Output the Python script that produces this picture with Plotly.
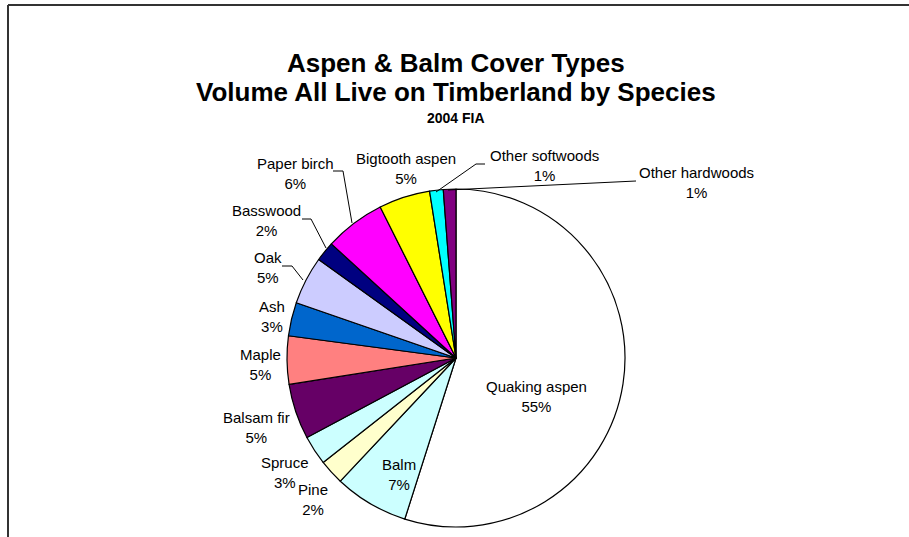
import plotly.graph_objects as go

W, H = 909, 537

species = ["Quaking aspen", "Balm", "Pine", "Spruce", "Balsam fir", "Maple", "Ash",
           "Oak", "Basswood", "Paper birch", "Bigtooth aspen", "Other softwoods",
           "Other hardwoods"]
percent = [54.9, 7.1, 2.4, 2.8, 5.3, 4.6, 3.2, 4.6, 1.9, 5.8, 4.9, 1.3, 1.2]
colors = ["#FFFFFF", "#CCFFFF", "#FFFFCC", "#CCFFFF", "#660066", "#FF8080", "#0066CC",
          "#CCCCFF", "#000080", "#FF00FF", "#FFFF00", "#00FFFF", "#800080"]

title_lines = ["Aspen & Balm Cover Types", "Volume All Live on Timberland by Species"]
subtitle = "2004 FIA"

# label centre positions in pixels (layout only)
label_pos = {
    "Quaking aspen": (536, 396),
    "Balm": (399, 474),
    "Pine": (313, 499),
    "Spruce": (285, 472),
    "Balsam fir": (256, 427),
    "Maple": (260, 364),
    "Ash": (272, 316),
    "Oak": (268, 268),
    "Basswood": (266, 221),
    "Paper birch": (295, 173),
    "Bigtooth aspen": (406, 168),
    "Other softwoods": (544, 165),
    "Other hardwoods": (696, 182),
}
leaders = [
    [(333, 171), (343, 171), (352, 223)],
    [(302, 219), (311, 219), (326, 248)],
    [(282, 266), (292, 266), (303, 280)],
    [(485, 164), (476, 164), (436, 192)],
    [(636, 181), (448, 190)],
]

cx, cy, r = 456, 358, 169

def px(x):
    return x / W

def py(y):
    return 1 - y / H

fig = go.Figure(go.Pie(
    labels=species, values=percent, sort=False, direction="clockwise", rotation=0,
    marker=dict(colors=colors, line=dict(color="#000000", width=1.2)),
    textinfo="none", hoverinfo="label+percent",
    domain=dict(x=[px(cx - r), px(cx + r)], y=[py(cy + r), py(cy - r)]),
    showlegend=False,
))

annotations = []
lab_font = dict(family="Liberation Sans, Arial", size=15, color="#000000")
for name, val in zip(species, percent):
    x, y = label_pos[name]
    annotations.append(dict(
        x=px(x), y=py(y), xref="paper", yref="paper", showarrow=False,
        text=f"{name}<br>{round(val)}%", font=lab_font, align="center",
        xanchor="center", yanchor="middle",
    ))

tfont = dict(family="Liberation Sans, Arial", size=26, color="#000000")
annotations.append(dict(x=px(456), y=py(63), xref="paper", yref="paper", showarrow=False,
                        text=f"<b>{title_lines[0]}</b>", font=tfont, xanchor="center", yanchor="middle"))
annotations.append(dict(x=px(456), y=py(92), xref="paper", yref="paper", showarrow=False,
                        text=f"<b>{title_lines[1]}</b>", font=tfont, xanchor="center", yanchor="middle"))
annotations.append(dict(x=px(456), y=py(118), xref="paper", yref="paper", showarrow=False,
                        text=f"<b>{subtitle}</b>", font=dict(family="Liberation Sans, Arial", size=14, color="#000000"),
                        xanchor="center", yanchor="middle"))

shapes = []
for pts in leaders:
    for (x0, y0), (x1, y1) in zip(pts[:-1], pts[1:]):
        shapes.append(dict(type="line", xref="paper", yref="paper",
                           x0=px(x0), y0=py(y0), x1=px(x1), y1=py(y1),
                           line=dict(color="#000000", width=1)))
# chart-area frame (top and left edges visible)
shapes.append(dict(type="line", xref="paper", yref="paper", x0=px(8), y0=py(5), x1=px(909), y1=py(5),
                   line=dict(color="#333333", width=2)))
shapes.append(dict(type="line", xref="paper", yref="paper", x0=px(8), y0=py(5), x1=px(8), y1=py(537),
                   line=dict(color="#333333", width=2)))

fig.update_layout(
    width=W, height=H, margin=dict(l=0, r=0, t=0, b=0),
    paper_bgcolor="#FFFFFF", plot_bgcolor="#FFFFFF",
    annotations=annotations, shapes=shapes,
)

fig.write_html("out.html", config={"displayModeBar": False},
               post_script="document.body.style.margin='0px';document.body.style.overflow='hidden';")
